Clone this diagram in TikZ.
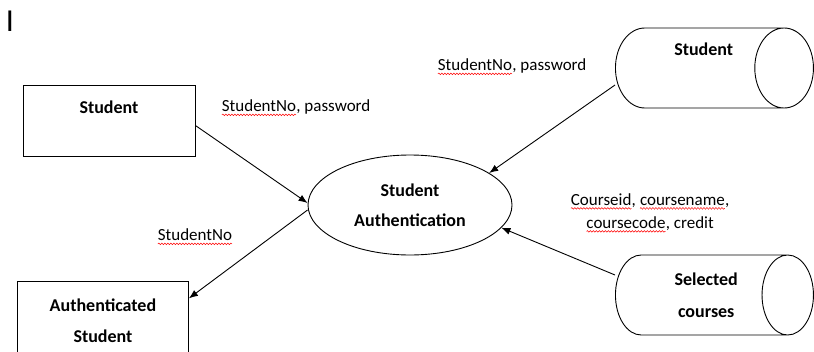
\documentclass[tikz,border=0pt]{standalone}
\usepackage{fontspec}
\setmainfont{Carlito}
\usetikzlibrary{shapes.geometric,arrows.meta,decorations.pathmorphing}
\newcommand\spell[1]{\tikz[baseline=(w.base)]{\node[inner sep=0pt, outer sep=0pt] (w) {#1};
	\draw[red, line width=.5pt, decorate, decoration={snake, amplitude=.8pt, segment length=3pt}] ([yshift=-3pt]w.base west) -- ([yshift=-3pt]w.base east);}}
\newcommand\ind{\hspace*{20pt}}
\begin{document}
\begin{tikzpicture}[x=1pt, y=-1pt, line width=.9pt,
	proc/.style={draw, rectangle, font=\bfseries\fontsize{18}{31}\selectfont},
	proc2/.style={draw, ellipse, inner sep=0pt, align=center, font=\bfseries\fontsize{18}{30}\selectfont},
	dstore/.style={draw, cylinder, aspect=1, minimum width=80pt, minimum height=198pt, anchor=west, align=center, font=\bfseries\fontsize{18}{32}\selectfont},
	lbl/.style={inner sep=1pt, font=\fontsize{17}{23}\selectfont},
	flow/.style={-{Latex[length=9pt,width=7pt]}}]
	\useasboundingbox (0,0) rectangle (814,351);
	\node[inner sep=0pt, font=\fontsize{32}{32}\selectfont] (cursor) at (10,21.5) {I};
	\node[proc, minimum width=172pt, minimum height=71pt, text height=13pt, text depth=28pt] (stud) at (109,120.5) {Student};
	\node[proc, anchor=north west, minimum width=171pt, inner ysep=17pt, align=center] (ast) at (17,281) {Authenticated\\Student};
	\node[proc2, minimum width=204pt, minimum height=100pt] (auth) at (410,205) {Student\\Authentication};
	\node[dstore, text height=13pt, text depth=39pt] (sdb) at (615,68) {\ind Student};
	\node[dstore] (sel) at (615,295) {\ind Selected\\\ind courses};
	% data flows
	\node[lbl] (l1) at (296,108) {\spell{StudentNo}, password};
	\node[lbl] (l2) at (512,67) {\spell{StudentNo}, password};
	\node[lbl] (l3) at (195,237) {\spell{StudentNo}};
	\node[lbl, align=center] (l4) at (650,213) {\spell{Courseid}, \spell{coursename},\\\spell{coursecode}, credit};
	\draw[flow] ([yshift=-17pt]sdb.west) -- (auth.22);
	\draw[flow] ([yshift=20pt]sel.west) -- (auth.-14);
	\draw[flow] ([yshift=-5pt]stud.east) -- ([yshift=2pt]auth.west);
	\draw[flow] ([yshift=-5pt]auth.west) -- ([yshift=22pt]ast.east);
\end{tikzpicture}
\end{document}
